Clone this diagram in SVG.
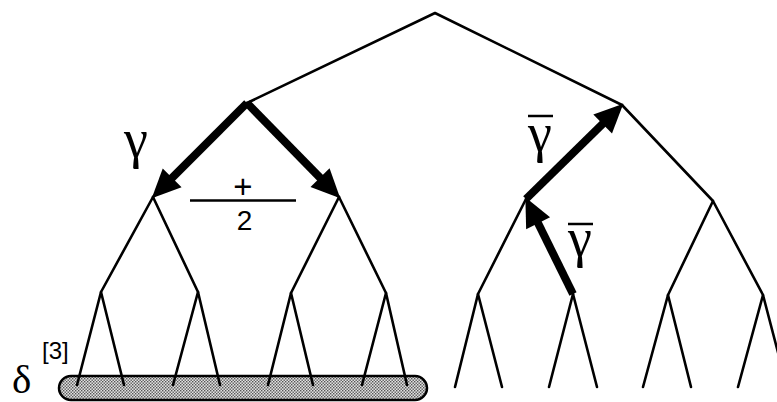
<svg xmlns="http://www.w3.org/2000/svg" width="777" height="402" viewBox="0 0 777 402">
<style>
.edge{stroke:#000;stroke-width:2.6;fill:none;stroke-linecap:round;stroke-linejoin:round}
.thick{stroke:#000;stroke-width:8;fill:none;marker-end:url(#head)}
.greek{font-family:"Liberation Serif","DejaVu Serif",serif;fill:#000}
.sans{font-family:"Liberation Sans",Arial,sans-serif;fill:#000}
.bar{stroke:#000;stroke-width:2.5}
</style>
<defs>
<marker id="head" markerUnits="userSpaceOnUse" markerWidth="30" markerHeight="30" refX="10" refY="0" viewBox="0 -13 27 26" orient="auto" overflow="visible">
<path d="M0,-12 L26,0 L0,12 z" fill="#000"/>
</marker>
<pattern id="dots" width="3" height="3" patternUnits="userSpaceOnUse">
<rect width="3" height="3" fill="#e2e2e2"/>
<rect x="0" y="0" width="1.4" height="1.4" fill="#555"/>
<rect x="1.5" y="1.5" width="1.4" height="1.4" fill="#555"/>
</pattern>
</defs>
<rect width="777" height="402" fill="#fff"/>
<g id="delta-band">
<rect x="59" y="376" width="368" height="24" rx="12" fill="url(#dots)" stroke="#000" stroke-width="2.5"/>
</g>
<g id="connectors">
<path class="edge" d="M247,103 L435,13 L622,105"/>
<path class="edge" d="M153,197 L247,103 L339,197"/>
<path class="edge" d="M526,199 L622,105 L713,201"/>
<path class="edge" d="M101,292 L153,197 L198,292"/>
<path class="edge" d="M291,293 L339,197 L386,293"/>
<path class="edge" d="M478,294 L526,199 L573,294"/>
<path class="edge" d="M668,295 L713,201 L763,295"/>
<path class="edge" d="M77,385 L101,292 L124,385"/>
<path class="edge" d="M173,385 L198,292 L220,385"/>
<path class="edge" d="M268,385 L291,293 L313,385"/>
<path class="edge" d="M362,385 L386,293 L407,385"/>
<path class="edge" d="M455,387 L478,294 L502,387"/>
<path class="edge" d="M549,387 L573,294 L597,387"/>
<path class="edge" d="M643,387 L668,295 L691,387"/>
<path class="edge" d="M738,387 L763,295 L787,387"/>
<path class="thick" d="M247,103 L164.3,185.7"/>
<path class="thick" d="M247,103 L327.8,185.6"/>
<path class="thick" d="M526,199 L610.6,116.2"/>
<path class="thick" d="M573,294 L533.2,213.3"/>
</g>
<g id="label-gamma">
<text class="greek" x="136" y="157" font-size="54" text-anchor="middle">γ</text>
</g>
<g id="label-plus-half">
<text class="sans" x="243" y="197.5" font-size="33" text-anchor="middle">+</text>
<line class="bar" x1="190" y1="200.5" x2="296" y2="200.5"/>
<text class="sans" x="244.5" y="230" font-size="28" text-anchor="middle">2</text>
</g>
<g id="label-gammabar-1">
<line class="bar" x1="528" y1="116" x2="553" y2="116"/>
<text class="greek" x="540" y="151" font-size="54" text-anchor="middle">γ</text>
</g>
<g id="label-gammabar-2">
<line class="bar" x1="568" y1="224" x2="593" y2="224"/>
<text class="greek" x="580" y="256" font-size="54" text-anchor="middle">γ</text>
</g>
<g id="label-delta">
<text class="greek" x="12" y="392.5" font-size="41">δ</text>
<text class="sans" x="42" y="359" font-size="24">[3]</text>
</g>
</svg>
